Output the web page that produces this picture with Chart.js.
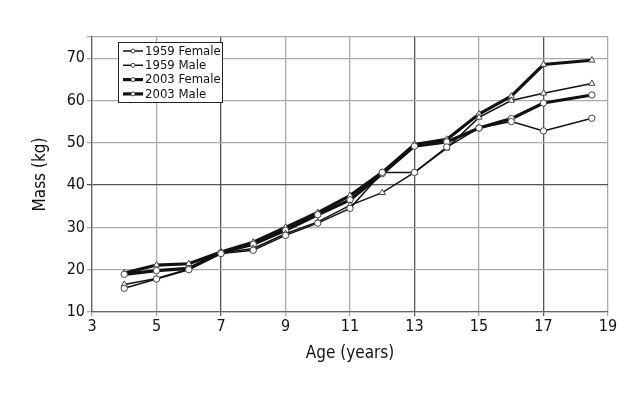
<!DOCTYPE html>
<html>
<head>
<meta charset="utf-8">
<script src="https://cdn.jsdelivr.net/npm/chart.js@4"></script>
<style>
  html, body { margin: 0; padding: 0; background: #fff; }
  #wrap { width: 640px; height: 400px; }
</style>
</head>
<body>
<div id="wrap"><canvas id="massChart"></canvas></div>
<script>
// ages where the measurements were taken
const ages = [4, 5, 6, 7, 8, 9, 10, 11, 12, 13, 14, 15, 16, 17, 18.5];

const female1959 = [15.6, 17.8, 20.0, 23.8, 24.6, 28.1, 31.0, 34.5, 43.0, 43.0, 49.0, 53.5, 55.0, 52.8, 55.8];
const male1959   = [16.5, 17.9, 20.2, 23.9, 25.0, 28.5, 31.3, 35.2, 38.2, 43.0, 48.7, 56.0, 60.0, 61.7, 64.0];
const female2003 = [18.9, 19.8, 20.3, 24.0, 26.0, 29.3, 33.0, 36.5, 42.7, 49.2, 50.2, 53.5, 55.7, 59.4, 61.3];
const male2003   = [19.2, 21.1, 21.4, 24.2, 26.5, 30.0, 33.5, 37.5, 43.0, 49.6, 50.8, 56.8, 61.0, 68.5, 69.5];

const xTicks = [3, 5, 7, 9, 11, 13, 15, 17, 19];
const yTicks = [10, 20, 30, 40, 50, 60, 70];

const FONT = "'Liberation Sans Narrow', 'DejaVu Sans Condensed', 'Liberation Sans', sans-serif";

function toPoints(values) {
  return ages.map((a, i) => ({ x: a, y: values[i] }));
}

function series(label, values, style, width) {
  return {
    label: label,
    data: toPoints(values),
    borderColor: '#111',
    borderWidth: width,
    pointStyle: style,
    pointRadius: style === 'triangle' ? 3.6 : 3.2,
    pointBackgroundColor: '#fff',
    pointBorderColor: '#444',
    pointBorderWidth: 1,
    tension: 0
  };
}

// legend drawn inside the plot, in a bordered box
const boxLegend = {
  id: 'boxLegend',
  afterDraw(chart) {
    const ctx = chart.ctx;
    const x0 = 118, y0 = 42, w = 104, h = 60;
    ctx.save();
    ctx.fillStyle = '#fff';
    ctx.fillRect(x0, y0, w, h);
    ctx.strokeStyle = '#222';
    ctx.lineWidth = 1;
    ctx.strokeRect(x0 + 0.5, y0 + 0.5, w, h);
    chart.data.datasets.forEach((ds, i) => {
      const y = y0 + 9 + i * 14.3;
      ctx.strokeStyle = '#111';
      ctx.lineWidth = ds.borderWidth;
      ctx.beginPath();
      ctx.moveTo(x0 + 5, y);
      ctx.lineTo(x0 + 25, y);
      ctx.stroke();
      ctx.fillStyle = '#fff';
      ctx.strokeStyle = '#444';
      ctx.lineWidth = 1;
      ctx.beginPath();
      ctx.arc(x0 + 15, y, 2, 0, Math.PI * 2);
      ctx.fill();
      ctx.stroke();
      ctx.fillStyle = '#111';
      ctx.font = '13px ' + FONT;
      ctx.textBaseline = 'middle';
      ctx.fillText(ds.label, x0 + 27, y + 0.5);
    });
    ctx.restore();
  }
};

const darkX = [7, 13, 17];
const darkY = [40];

new Chart(document.getElementById('massChart'), {
  type: 'line',
  data: {
    datasets: [
      series('1959 Female', female1959, 'circle', 1.5),
      series('1959 Male', male1959, 'triangle', 1.5),
      series('2003 Female', female2003, 'circle', 3.2),
      series('2003 Male', male2003, 'triangle', 3.2)
    ]
  },
  options: {
    responsive: true,
    maintainAspectRatio: false,
    animation: false,
    layout: { padding: { left: 30, right: 32, top: 37, bottom: 36 } },
    plugins: {
      legend: { display: false },
      tooltip: { enabled: false }
    },
    scales: {
      x: {
        type: 'linear',
        min: 3,
        max: 19,
        afterBuildTicks: (scale) => { scale.ticks = xTicks.map(v => ({ value: v })); },
        afterFit: (scale) => { scale.height = 52; },
        grid: {
          color: (c) => darkX.includes(c.tick && c.tick.value) ? '#555' : '#aaa',
          lineWidth: 1.3,
          tickLength: 4
        },
        border: { color: '#666', width: 1.3 },
        ticks: { color: '#111', font: { family: FONT, size: 16 }, padding: 1, maxRotation: 0 },
        title: { display: true, text: 'Age (years)', color: '#111', font: { family: FONT, size: 17 }, padding: { top: 2, bottom: 0 } }
      },
      y: {
        min: 10,
        max: 75,
        afterBuildTicks: (scale) => { scale.ticks = yTicks.concat([75]).map(v => ({ value: v })); },
        afterFit: (scale) => { scale.width = 62; },
        grid: {
          color: (c) => darkY.includes(c.tick && c.tick.value) ? '#555' : '#aaa',
          lineWidth: 1.3,
          tickLength: 5
        },
        border: { color: '#666', width: 1.3 },
        ticks: {
          color: '#111',
          font: { family: FONT, size: 16 },
          padding: 2,
          callback: (v) => v === 75 ? '' : v
        },
        title: { display: true, text: 'Mass (kg)', color: '#111', font: { family: FONT, size: 17 }, padding: { top: 0, bottom: 2 } }
      }
    }
  },
  plugins: [boxLegend]
});
</script>
</body>
</html>
